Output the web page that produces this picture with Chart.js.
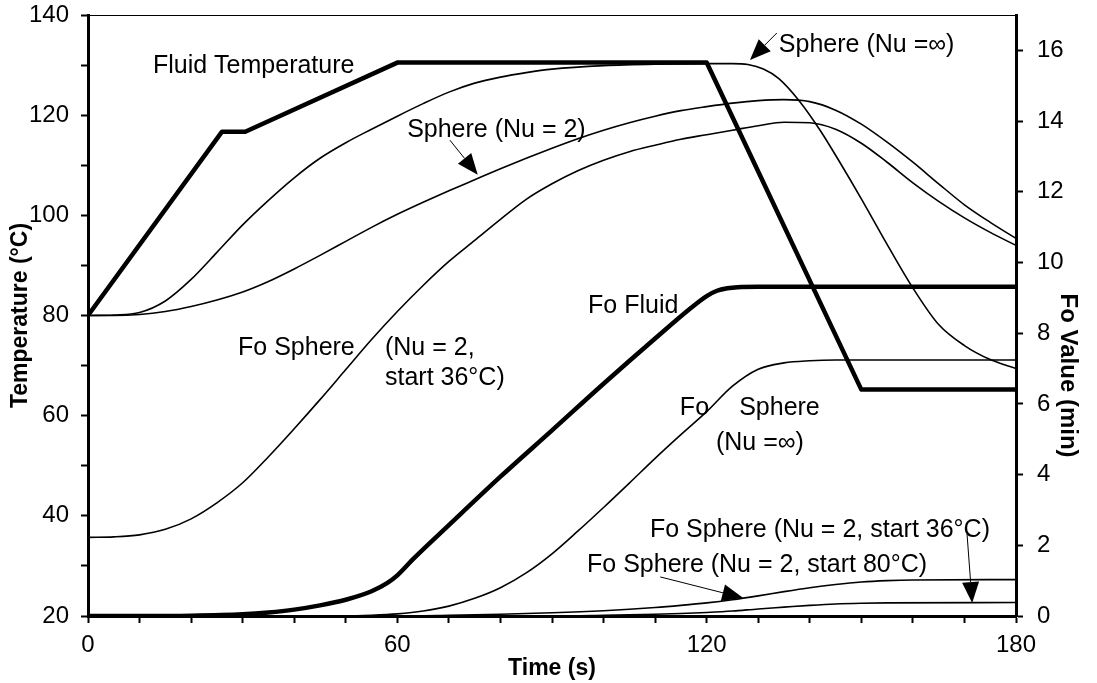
<!DOCTYPE html>
<html>
<head>
<meta charset="utf-8">
<title>Fluid and sphere temperature / Fo value</title>
<script src="https://cdn.jsdelivr.net/npm/chart.js@4.4.1/dist/chart.umd.min.js"></script>
<style>
    html, body { margin: 0; padding: 0; background: #fff; }
    #wrap { width: 1097px; height: 683px; }
</style>
</head>
<body>
<div id="wrap"><canvas id="heatChart"></canvas></div>
<script>
'use strict';

// Fluid temperature (degC)
const fluidTime = [0, 26, 30.5, 60, 120, 150, 180];
const fluidTemp = [80, 116.7, 116.7, 130.5, 130.5, 65.2, 65.2];

// Sphere centre temperature, Nu = infinity (degC)
const sphereInfTime = [0, 5, 10, 15, 20, 25, 30, 35, 40, 45, 50, 55, 60, 65, 70, 75, 80, 85, 90, 100,
    110, 120, 125, 128, 131, 134, 138, 142, 146, 150, 155, 160, 165, 170, 175, 180];
const sphereInfTemp = [80, 80.1, 80.6, 82.9, 87.2, 92.6, 98.1, 103, 107.5, 111.4, 114.5, 117.2, 119.8,
    122.3, 124.6, 126.4, 127.6, 128.5, 129.2, 129.9, 130.2, 130.3, 130.3, 130.1, 129.2, 127.3, 122.8,
    117, 110.3, 103.3, 94.2, 85.5, 78.2, 74, 71.2, 69.4];

// Sphere centre temperature, Nu = 2, start 80 degC
const sphereNu2Time = [0, 5, 10, 15, 20, 25, 30, 35, 40, 45, 50, 55, 60, 65, 70, 75, 80, 85, 90, 95,
    100, 105, 110, 115, 120, 125, 130, 135, 140, 145, 150, 155, 160, 165, 170, 175, 180];
const sphereNu2Temp = [80, 80, 80.2, 80.8, 81.8, 83.1, 84.7, 86.8, 89.3, 92, 94.8, 97.6, 100.2, 102.6,
    104.9, 107.1, 109.3, 111.4, 113.4, 115.3, 117, 118.5, 119.8, 120.9, 121.7, 122.4, 122.9, 123.1,
    122.7, 121, 118.2, 114.6, 110.6, 106.3, 102.1, 98.6, 95.4];

// Sphere centre temperature, Nu = 2, start 36 degC
const sphere36Time = [0, 5, 10, 15, 20, 25, 30, 35, 40, 45, 50, 55, 60, 65, 70, 75, 80, 85, 90, 95,
    100, 105, 110, 115, 120, 125, 130, 135, 140, 145, 150, 155, 160, 165, 170, 175, 180];
const sphere36Temp = [35.7, 35.8, 36.2, 37.3, 39.4, 42.6, 46.6, 51.8, 57.4, 63.2, 69.2, 75.2, 80.8, 86,
    90.8, 95, 99.2, 103.2, 106.3, 108.9, 111, 112.7, 114, 115.2, 116.1, 117, 117.9, 118.6, 118.5,
    117.2, 114.4, 110.6, 106.5, 102.8, 99.5, 96.6, 94];

// Fo values (min)
const foFluidTime = [0, 10, 20, 30, 35, 40, 45, 50, 55, 58, 60, 63, 70, 80, 90, 100, 110, 117, 120,
    122, 124, 126, 130, 180];
const foFluid = [0, 0, 0.01, 0.05, 0.1, 0.18, 0.3, 0.46, 0.7, 0.93, 1.15, 1.6, 2.57, 3.94, 5.25, 6.57,
    7.85, 8.72, 9.05, 9.2, 9.27, 9.3, 9.31, 9.31];

const foInfTime = [0, 50, 55, 60, 65, 70, 75, 80, 85, 90, 95, 100, 105, 110, 115, 120, 125, 130, 135,
    140, 145, 180];
const foInf = [0, 0, 0.02, 0.06, 0.14, 0.28, 0.5, 0.8, 1.22, 1.76, 2.4, 3.07, 3.76, 4.46, 5.13, 5.78,
    6.5, 6.98, 7.16, 7.22, 7.24, 7.24];

const foNu2From80Time = [0, 60, 70, 80, 90, 100, 110, 115, 120, 125, 130, 135, 140, 145, 150, 155,
    160, 180];
const foNu2From80 = [0, 0, 0.02, 0.05, 0.09, 0.15, 0.24, 0.3, 0.37, 0.46, 0.57, 0.69, 0.8, 0.89, 0.96,
    1.0, 1.02, 1.03];

const foNu2From36Time = [0, 90, 100, 110, 115, 120, 125, 130, 135, 140, 145, 150, 155, 180];
const foNu2From36 = [0, 0, 0.02, 0.05, 0.07, 0.1, 0.14, 0.2, 0.25, 0.3, 0.34, 0.36, 0.37, 0.38];

// Axis ranges and labelled ticks
const timeLabels = [0, 60, 120, 180];
const tempLabels = [20, 40, 60, 80, 100, 120, 140];
const foLabels = [0, 2, 4, 6, 8, 10, 12, 14, 16];

// Text labels on the plot (time s, temperature degC)
const notes = [
    { text: 'Fluid Temperature', t: 12.6, T: 128.4 },
    { text: 'Sphere (Nu =\u221E)', t: 134.0, T: 132.6 },
    { text: 'Sphere (Nu = 2)', t: 61.9, T: 115.6 },
    { text: 'Fo Sphere', t: 29.1, T: 72.1 },
    { text: '(Nu = 2,', t: 57.6, T: 72.1 },
    { text: 'start 36\u00B0C)', t: 57.6, T: 66.1 },
    { text: 'Fo Fluid', t: 97.0, T: 80.5 },
    { text: 'Fo', t: 114.8, T: 60.1 },
    { text: 'Sphere', t: 126.3, T: 60.1 },
    { text: '(Nu =\u221E)', t: 121.8, T: 53.1 },
    { text: 'Fo Sphere (Nu = 2, start 36\u00B0C)', t: 109.0, T: 35.8 },
    { text: 'Fo Sphere (Nu = 2, start 80\u00B0C)', t: 96.8, T: 28.8 }
];

// Arrows: from (t1, T1) to head (t2, T2)
const arrows = [
    { t1: 133.6, T1: 136.4, t2: 128.4, T2: 131.0 },
    { t1: 70.2, T1: 115.0, t2: 75.6, T2: 108.1 },
    { t1: 111.0, T1: 27.8, t2: 127.1, T2: 23.6 },
    { t1: 170.5, T1: 36.4, t2: 171.5, T2: 22.6 }
];

const FONT = '"Liberation Sans", Arial, Helvetica, sans-serif';

function toPoints(xs, ys) {
    return xs.map((x, i) => ({ x: x, y: ys[i] }));
}

function line(xs, ys, axis, thick, straight) {
    return {
        data: toPoints(xs, ys),
        yAxisID: axis,
        borderColor: '#000',
        borderWidth: thick ? 4.5 : 1.6,
        borderJoinStyle: 'round',
        pointRadius: 0,
        fill: false,
        tension: 0,
        cubicInterpolationMode: straight ? 'default' : 'monotone'
    };
}

// Keep the plot frame fixed: no extra room for half tick labels
function fixVertical(width) {
    return s => {
        s.width = width;
        s.paddingTop = 0;
        s.paddingBottom = 0;
    };
}

// Draw text labels, arrows, the top frame line and the right axis title
const notesPlugin = {
    id: 'notes',
    afterDraw(chart) {
        const ctx = chart.ctx;
        const x = chart.scales.x;
        const y = chart.scales.y;
        const area = chart.chartArea;

        ctx.save();

        // top frame line
        ctx.strokeStyle = '#000';
        ctx.lineWidth = 1;
        ctx.beginPath();
        ctx.moveTo(area.left, area.top + 0.5);
        ctx.lineTo(area.right, area.top + 0.5);
        ctx.stroke();

        ctx.fillStyle = '#000';
        ctx.font = '25px ' + FONT;
        ctx.textAlign = 'left';
        ctx.textBaseline = 'alphabetic';
        notes.forEach(n => {
            ctx.fillText(n.text, x.getPixelForValue(n.t), y.getPixelForValue(n.T));
        });

        arrows.forEach(a => {
            const x1 = x.getPixelForValue(a.t1);
            const y1 = y.getPixelForValue(a.T1);
            const x2 = x.getPixelForValue(a.t2);
            const y2 = y.getPixelForValue(a.T2);
            const ang = Math.atan2(y2 - y1, x2 - x1);
            const len = 21;
            const half = 8.5;
            const bx = x2 - len * Math.cos(ang);
            const by = y2 - len * Math.sin(ang);

            ctx.lineWidth = 1;
            ctx.beginPath();
            ctx.moveTo(x1, y1);
            ctx.lineTo(bx, by);
            ctx.stroke();

            ctx.beginPath();
            ctx.moveTo(x2, y2);
            ctx.lineTo(bx + half * Math.sin(ang), by - half * Math.cos(ang));
            ctx.lineTo(bx - half * Math.sin(ang), by + half * Math.cos(ang));
            ctx.closePath();
            ctx.fill();
        });

        // right axis title, reading top to bottom
        ctx.font = 'bold 24px ' + FONT;
        ctx.textAlign = 'center';
        ctx.textBaseline = 'middle';
        ctx.translate(area.right + 52, area.top + (area.bottom - area.top) * 0.6);
        ctx.rotate(Math.PI / 2);
        ctx.fillText('Fo Value (min)', 0, 0);

        ctx.restore();
    }
};

const tickFont = { family: FONT, size: 24 };
const axisGrid = {
    drawOnChartArea: false,
    drawTicks: true,
    tickLength: 7,
    tickWidth: 2,
    tickColor: '#000'
};
const axisBorder = { display: true, color: '#000', width: 3 };

const config = {
    type: 'line',
    data: {
        datasets: [
            line(fluidTime, fluidTemp, 'y', true, true),
            line(sphereInfTime, sphereInfTemp, 'y', false),
            line(sphereNu2Time, sphereNu2Temp, 'y', false),
            line(sphere36Time, sphere36Temp, 'y', false),
            line(foFluidTime, foFluid, 'y2', true),
            line(foInfTime, foInf, 'y2', false),
            line(foNu2From80Time, foNu2From80, 'y2', false),
            line(foNu2From36Time, foNu2From36, 'y2', false)
        ]
    },
    options: {
        responsive: true,
        maintainAspectRatio: false,
        animation: false,
        layout: { padding: { top: 15, left: 0, right: 0, bottom: 0 } },
        scales: {
            x: {
                type: 'linear',
                position: 'bottom',
                min: 0,
                max: 180,
                ticks: {
                    stepSize: 10,
                    autoSkip: false,
                    maxRotation: 0,
                    color: '#000',
                    font: tickFont,
                    padding: 8,
                    callback: v => timeLabels.includes(v) ? String(v) : ''
                },
                grid: axisGrid,
                border: axisBorder,
                title: {
                    display: true,
                    text: 'Time (s)',
                    color: '#000',
                    font: { family: FONT, size: 23, weight: 'bold' },
                    padding: { top: 0, bottom: 1 }
                },
                afterFit: s => {
                    s.height = 67;
                    s.paddingLeft = 0;
                    s.paddingRight = 0;
                }
            },
            y: {
                position: 'left',
                min: 20,
                max: 140,
                ticks: {
                    stepSize: 10,
                    autoSkip: false,
                    color: '#000',
                    font: tickFont,
                    padding: 12,
                    callback: v => tempLabels.includes(v) ? String(v) : ''
                },
                grid: axisGrid,
                border: axisBorder,
                title: {
                    display: true,
                    text: 'Temperature (\u00B0C)',
                    color: '#000',
                    font: { family: FONT, size: 23, weight: 'bold' },
                    padding: { top: 7, bottom: 0 }
                },
                afterFit: fixVertical(88)
            },
            y2: {
                position: 'right',
                min: 0,
                max: 17,
                ticks: {
                    stepSize: 2,
                    autoSkip: false,
                    color: '#000',
                    font: tickFont,
                    padding: 14,
                    callback: v => foLabels.includes(v) ? String(v) : ''
                },
                afterBuildTicks: s => {
                    s.ticks = s.ticks.filter(t => foLabels.includes(t.value));
                },
                grid: axisGrid,
                border: axisBorder,
                afterFit: fixVertical(81)
            }
        },
        plugins: {
            legend: { display: false },
            tooltip: { enabled: false }
        }
    },
    plugins: [notesPlugin]
};

// Draw Chart
new Chart(document.getElementById('heatChart'), config);
</script>
</body>
</html>
